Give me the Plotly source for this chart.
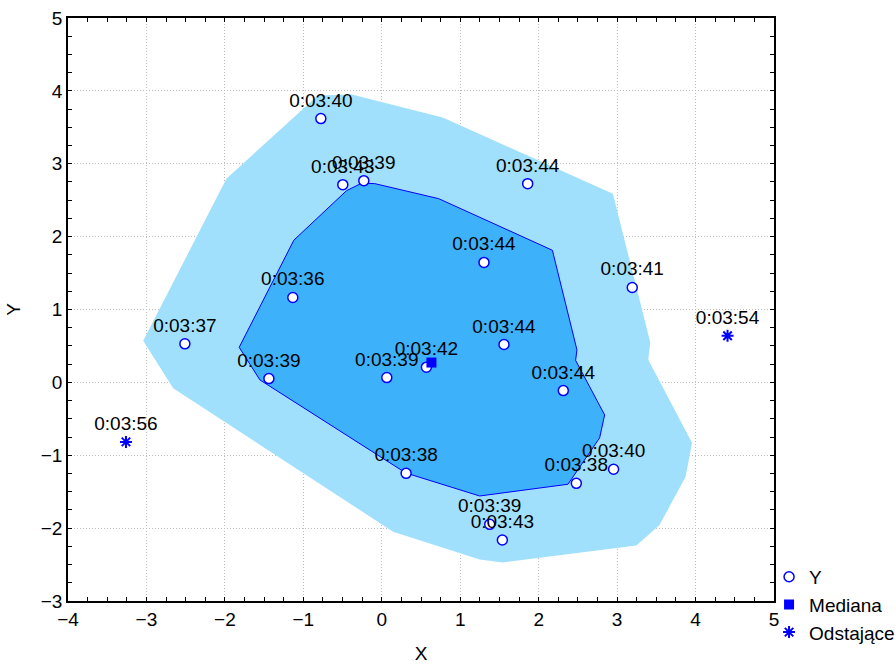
import plotly.graph_objects as go

# Data points (Y series)
pts_x = [-0.777, -0.497, -0.229, 1.860, 1.303, -1.134, 3.193, -2.510, 1.558, 0.569,
         0.064, -1.439, 2.314, 0.310, 2.480, 2.955, 1.376, 1.537]
pts_y = [3.62, 2.713, 2.768, 2.727, 1.646, 1.165, 1.302, 0.529, 0.519, 0.209,
         0.066, 0.052, -0.113, -1.248, -1.385, -1.192, -1.948, -2.163]
pts_lab = ["0:03:40", "0:03:43", "0:03:39", "0:03:44", "0:03:44", "0:03:36", "0:03:41",
           "0:03:37", "0:03:44", "0:03:42", "0:03:39", "0:03:39", "0:03:44", "0:03:38",
           "0:03:38", "0:03:40", "0:03:39", "0:03:43"]

# Median
med_x = [0.633]
med_y = [0.272]

# Outliers
out_x = [4.408, -3.261]
out_y = [0.639, -0.817]
out_lab = ["0:03:54", "0:03:56"]

# Fence (outer polygon)
fence_x = [-3.041, -1.981, -0.815, -0.382, 0.777, 2.946, 3.423, 3.397, 3.955, 3.873,
           3.541, 3.245, 1.545, 1.248, 0.144, -2.659]
fence_y = [0.570, 2.795, 3.935, 3.949, 3.633, 2.589, 0.547, 0.309, -0.827, -1.294,
           -1.957, -2.239, -2.470, -2.429, -2.049, -0.080]

# Bag (inner polygon)
bag_x = [-1.818, -1.554, 0.306, 1.248, 2.373, 2.777, 2.841, 2.471, 2.488, 2.175,
         0.726, -0.089, -0.255, -0.450, -1.121]
bag_y = [0.481, 0.034, -1.243, -1.559, -1.398, -0.762, -0.446, 0.302, 0.446, 1.813,
         2.521, 2.727, 2.734, 2.630, 1.951]

FONT = "Arial, Liberation Sans, sans-serif"
BLUE = "#0000ff"

fig = go.Figure()
fig.add_trace(go.Scatter(x=fence_x + fence_x[:1], y=fence_y + fence_y[:1], mode="lines",
                         fill="toself", fillcolor="#a0e0fd", line=dict(width=0),
                         showlegend=False, hoverinfo="skip"))
fig.add_trace(go.Scatter(x=bag_x + bag_x[:1], y=bag_y + bag_y[:1], mode="lines",
                         fill="toself", fillcolor="#3eb1fb", line=dict(width=1, color=BLUE),
                         showlegend=False, hoverinfo="skip"))
fig.add_trace(go.Scatter(x=pts_x, y=pts_y, mode="markers+text", name="Y",
                         text=pts_lab, textposition="top center",
                         textfont=dict(size=19, color="black", family=FONT),
                         marker=dict(symbol="circle", size=10, color="white",
                                     line=dict(color=BLUE, width=1.5))))
fig.add_trace(go.Scatter(x=med_x, y=med_y, mode="markers", name="Mediana",
                         marker=dict(symbol="square", size=10, color=BLUE)))
fig.add_trace(go.Scatter(x=out_x, y=out_y, mode="markers+text", name="Odstające",
                         text=out_lab, textposition="top center",
                         textfont=dict(size=19, color="black", family=FONT),
                         marker=dict(symbol="asterisk", size=10, color=BLUE,
                                     line=dict(color=BLUE, width=2))))

axis_common = dict(showline=True, linecolor="black", linewidth=1.5, mirror="ticks",
                   ticks="inside", ticklen=4, tickcolor="black", tickwidth=1,
                   showgrid=True, gridcolor="#bcbcbc", griddash="1px,2px", gridwidth=1,
                   zeroline=False, dtick=1,
                   tickfont=dict(size=19, color="black", family=FONT),
                   minor=dict(ticks="inside", ticklen=4, dtick=0.25, tickcolor="black",
                              showgrid=False))

fig.update_xaxes(range=[-4, 5], title=dict(text="X", font=dict(size=19, family=FONT, color="black"),
                                           standoff=19), **axis_common)
fig.update_yaxes(range=[-3, 5], title=dict(text="Y", font=dict(size=19, family=FONT, color="black"),
                                           standoff=15), **axis_common)

fig.update_layout(width=895, height=664, plot_bgcolor="white", paper_bgcolor="white",
                  margin=dict(l=68, r=121, t=18, b=63, autoexpand=False),
                  font=dict(family=FONT, size=19, color="black"),
                  legend=dict(x=0.993, y=0.074, xanchor="left", yanchor="top",
                              bgcolor="rgba(0,0,0,0)", font=dict(size=19, family=FONT),
                              tracegroupgap=0, itemwidth=30))

fig.write_html("out.html", post_script="document.body.style.margin='0';",
               config={"displayModeBar": False})
